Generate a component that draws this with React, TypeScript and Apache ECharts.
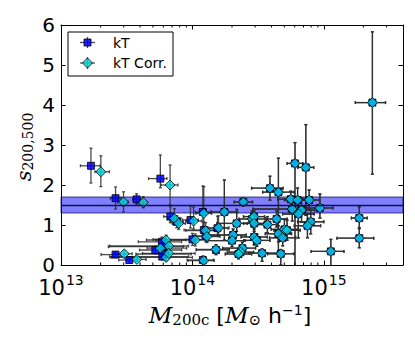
import React, { useEffect, useRef } from "react";
import * as echarts from "echarts";

// ---- axis ticks ----
const xMajorTicks = [1e13, 1e14, 1e15];
const xMinorTicks = [2e13, 3e13, 4e13, 5e13, 6e13, 7e13, 8e13, 9e13, 2e14, 3e14, 4e14, 5e14, 6e14, 7e14, 8e14, 9e14, 2e15, 3e15];
const xMin = 1e13;
const xMax = 4e15;
const yMin = 0;
const yMax = 6;
const yInterval = 1;

// ---- band ----
const bandLow = 1.3;
const bandMid = 1.5;
const bandHigh = 1.7;

// ---- low-mass clusters (kT and corrected differ) ----
const lowKTMass = [1.69e13, 2.6e13, 3.76e13, 2.6e13, 3.31e13, 5.7e13, 6.79e13, 7.59e13, 9.66e13, 1.2e14, 1.22e14, 1.26e14, 1.55e14, 1.0e14, 1.51e14, 1.2e14, 5.86e13, 6.03e13, 5.22e13, 5.89e13, 6.17e13];
const lowKTS = [2.48, 1.67, 1.64, 0.26, 0.125, 2.16, 1.21, 1.08, 1.125, 1.325, 0.875, 0.73, 0.92, 0.64, 0.375, 0.125, 0.58, 0.46, 0.375, 0.21, 0.275];
const lowKTXLo = [0.08, 0.04, 0.03, 0.11, 0.08, 0.09, 0.05, 0.05, 0.06, 0.06, 0.15, 0.1, 0.08, 0.3, 0.15, 0.12, 0.18, 0.42, 0.12, 0.4, 0.22];
const lowKTXHi = [0.07, 0.04, 0.03, 0.04, 0.06, 0.05, 0.05, 0.05, 0.06, 0.06, 0.08, 0.1, 0.08, 0.1, 0.1, 0.08, 0.15, 0.15, 0.2, 0.2, 0.2];
const lowKTSLo = [0.43, 0.27, 0.12, 0.07, 0.05, 0.23, 0.15, 0.15, 0.2, 0.4, 0.2, 0.15, 0.2, 0.15, 0.12, 0.1, 0.12, 0.1, 0.1, 0.08, 0.1];
const lowKTSHi = [0.44, 0.28, 0.14, 0.07, 0.05, 0.59, 0.25, 0.15, 0.35, 0.65, 0.2, 0.15, 0.3, 0.15, 0.12, 0.1, 0.12, 0.1, 0.1, 0.08, 0.1];

const lowCorrMass = [2.01e13, 2.99e13, 4.23e13, 3.03e13, 3.78e13, 6.76e13, 7.29e13, 7.87e13, 1.02e14, 1.22e14, 1.26e14, 1.29e14, 1.58e14, 1.05e14, 1.51e14, 1.22e14, 6.31e13, 6.61e13, 5.7e13, 6.31e13, 6.61e13];
const lowCorrS = [2.33, 1.575, 1.56, 0.28, 0.14, 2.0, 1.16, 1.04, 1.1, 1.29, 0.86, 0.71, 0.93, 0.625, 0.39, 0.11, 0.625, 0.475, 0.42, 0.19, 0.29];
const lowCorrXLo = [0.045, 0.045, 0.03, 0.08, 0.08, 0.07, 0.05, 0.05, 0.06, 0.06, 0.15, 0.1, 0.08, 0.3, 0.15, 0.12, 0.15, 0.45, 0.1, 0.42, 0.2];
const lowCorrXHi = [0.065, 0.036, 0.03, 0.06, 0.07, 0.06, 0.05, 0.05, 0.06, 0.06, 0.08, 0.1, 0.08, 0.1, 0.1, 0.08, 0.15, 0.15, 0.2, 0.2, 0.2];
const lowCorrSLo = [0.37, 0.245, 0.13, 0.07, 0.05, 0.5, 0.15, 0.15, 0.2, 0.4, 0.2, 0.15, 0.2, 0.15, 0.12, 0.1, 0.12, 0.1, 0.1, 0.08, 0.1];
const lowCorrSHi = [0.4, 0.255, 0.15, 0.07, 0.05, 0.5, 0.25, 0.15, 0.35, 0.67, 0.2, 0.15, 0.3, 0.15, 0.12, 0.1, 0.12, 0.1, 0.1, 0.08, 0.1];

// ---- high-mass clusters (kT and corrected coincide) ----
const hiMass = [1.75e14, 2.44e14, 3.89e14, 4.51e14, 5.6e14, 6.31e14, 7.73e14, 9.33e14, 5.75e14, 6.76e14, 6.4e14, 6.03e14, 7.29e14, 1.86e15, 1.86e15, 1.13e15, 7.94e14, 7.5e14, 2.17e14, 2.85e14, 2.94e14, 2.95e14, 3.72e14, 4.37e14, 2.04e14, 2.0e14, 2.95e14, 3.09e14, 4.51e14, 4.86e14, 5.01e14, 5.25e14, 2.4e14, 2.32e14, 2.24e14, 3.39e14, 4.7e14, 2.34e15];
const hiS = [1.325, 1.575, 1.92, 1.82, 1.645, 1.625, 1.625, 1.425, 1.4, 1.375, 1.275, 2.54, 2.44, 1.175, 0.67, 0.34, 1.08, 0.98, 1.04, 1.15, 1.21, 1.04, 1.01, 1.15, 0.75, 0.61, 0.7, 0.615, 0.78, 0.68, 0.89, 0.87, 0.42, 0.32, 0.275, 0.295, 0.28, 4.06];
const hiXLo = [0.1, 0.07, 0.14, 0.12, 0.1, 0.1, 0.08, 0.1, 0.3, 0.1, 0.12, 0.06, 0.06, 0.06, 0.17, 0.15, 0.1, 0.1, 0.15, 0.1, 0.08, 0.08, 0.08, 0.08, 0.2, 0.2, 0.1, 0.1, 0.1, 0.1, 0.1, 0.1, 0.15, 0.1, 0.1, 0.1, 0.1, 0.13];
const hiXHi = [0.1, 0.07, 0.1, 0.12, 0.1, 0.1, 0.08, 0.1, 0.1, 0.1, 0.12, 0.06, 0.06, 0.06, 0.11, 0.1, 0.1, 0.1, 0.08, 0.1, 0.08, 0.08, 0.08, 0.08, 0.1, 0.1, 0.1, 0.1, 0.1, 0.1, 0.1, 0.1, 0.1, 0.1, 0.1, 0.15, 0.1, 0.1];
const hiSLo = [0.7, 0.1, 0.3, 1.6, 0.2, 0.3, 0.25, 0.25, 0.3, 0.3, 0.6, 2.6, 1.2, 0.25, 0.24, 0.35, 0.3, 0.3, 0.2, 0.2, 0.15, 0.2, 0.2, 0.2, 0.15, 0.15, 0.2, 0.15, 0.2, 0.2, 0.25, 0.25, 0.15, 0.12, 0.12, 0.2, 0.28, 1.79];
const hiSHi = [0.8, 0.1, 0.3, 0.85, 0.2, 0.3, 0.25, 0.35, 0.3, 0.3, 0.3, 0.52, 1.07, 0.28, 0.24, 0.3, 0.3, 0.3, 0.35, 0.2, 0.15, 0.2, 0.2, 0.2, 0.15, 0.15, 0.2, 0.15, 0.2, 0.2, 0.25, 0.25, 0.15, 0.12, 0.12, 0.1, 0.1, 1.77];

const legendNames = ["kT", "kT Corr."];

const KT_COLOR = "rgba(0,0,255,0.85)";
const CORR_COLOR = "rgba(0,215,228,0.8)";
const ERR_COLOR = "rgba(45,45,45,0.85)";

function rows(m: number[], s: number[], xl: number[], xh: number[], sl: number[], sh: number[]) {
  return m.map((v, i) => [v, s[i], xl[i], xh[i], sl[i], sh[i]]);
}

const ktRows = rows(lowKTMass, lowKTS, lowKTXLo, lowKTXHi, lowKTSLo, lowKTSHi).concat(
  rows(hiMass, hiS, hiXLo, hiXHi, hiSLo, hiSHi)
);
const corrRows = rows(lowCorrMass, lowCorrS, lowCorrXLo, lowCorrXHi, lowCorrSLo, lowCorrSHi).concat(
  rows(hiMass, hiS, hiXLo, hiXHi, hiSLo, hiSHi)
);

function errRender(params: any, api: any) {
  const cs = params.coordSys;
  const m = api.value(0);
  const s = api.value(1);
  const xl = api.value(2);
  const xh = api.value(3);
  const sl = api.value(4);
  const sh = api.value(5);
  const c = api.coord([m, s]);
  const l = api.coord([m / Math.pow(10, xl), s]);
  const r = api.coord([m * Math.pow(10, xh), s]);
  const b = api.coord([m, s - sl]);
  const t = api.coord([m, s + sh]);
  const yB = Math.min(b[1], cs.y + cs.height);
  const style = { stroke: ERR_COLOR, lineWidth: 1.3 };
  const cap = 1.5;
  const children: any[] = [
    { type: "line", shape: { x1: l[0], y1: c[1], x2: r[0], y2: c[1] }, style },
    { type: "line", shape: { x1: c[0], y1: yB, x2: c[0], y2: t[1] }, style },
    { type: "line", shape: { x1: l[0], y1: c[1] - cap, x2: l[0], y2: c[1] + cap }, style },
    { type: "line", shape: { x1: r[0], y1: c[1] - cap, x2: r[0], y2: c[1] + cap }, style },
    { type: "line", shape: { x1: c[0] - cap, y1: t[1], x2: c[0] + cap, y2: t[1] }, style },
  ];
  if (b[1] <= cs.y + cs.height) {
    children.push({ type: "line", shape: { x1: c[0] - cap, y1: b[1], x2: c[0] + cap, y2: b[1] }, style });
  }
  return { type: "group", children };
}

function minorRender(params: any, api: any) {
  const cs = params.coordSys;
  const p = api.coord([api.value(0), 0]);
  const style = { stroke: "#000", lineWidth: 1 };
  const len = 2.5;
  return {
    type: "group",
    children: [
      { type: "line", shape: { x1: p[0], y1: cs.y + cs.height, x2: p[0], y2: cs.y + cs.height - len }, style },
      { type: "line", shape: { x1: p[0], y1: cs.y, x2: p[0], y2: cs.y + len }, style },
    ],
  };
}

const SANS = "'DejaVu Sans', sans-serif";
const SERIF = "'DejaVu Serif', serif";

export default function App() {
  const ref = useRef<HTMLDivElement>(null);
  useEffect(() => {
    document.body.style.margin = "0";
    const chart = echarts.init(ref.current!, null, { renderer: "svg" });
    const axisCommon = {
      axisLine: { show: true, onZero: false, lineStyle: { color: "#000", width: 1 } },
      axisTick: { show: true, inside: true, length: 4.5, lineStyle: { color: "#000", width: 1 } },
      splitLine: { show: false },
    };
    const xAxisBase = {
      type: "log",
      logBase: 10,
      min: xMin,
      max: xMax,
      ...axisCommon,
    };
    const yAxisBase = {
      type: "value",
      min: yMin,
      max: yMax,
      interval: yInterval,
      ...axisCommon,
    };
    const option: any = {
      animation: false,
      grid: { left: 61, right: 12, top: 25, bottom: 81 },
      xAxis: [
        {
          ...xAxisBase,
          position: "bottom",
          axisLabel: {
            show: true,
            margin: 2,
            formatter: (v: number) => {
              const e = Math.round(Math.log10(v));
              if (!xMajorTicks.some((t) => Math.abs(Math.log10(t) - e) < 1e-6)) return "";
              return `{b|10}{s|${e}}`;
            },
            rich: {
              b: { fontFamily: SANS, fontSize: 21, color: "#000", padding: [10, 0, 0, 0] },
              s: { fontFamily: SANS, fontSize: 14, color: "#000", padding: [0, 0, 6, 1] },
            },
          },
        },
        { ...xAxisBase, position: "top", axisLabel: { show: false } },
      ],
      yAxis: [
        {
          ...yAxisBase,
          position: "left",
          axisLabel: { show: true, margin: 6, fontFamily: SANS, fontSize: 20, color: "#000" },
        },
        { ...yAxisBase, position: "right", axisLabel: { show: false } },
      ],
      series: [
        {
          type: "scatter",
          data: [],
          markArea: {
            silent: true,
            itemStyle: { color: "rgba(0,0,255,0.5)", borderColor: "rgba(0,0,90,0.7)", borderWidth: 1 },
            data: [[{ yAxis: bandLow }, { yAxis: bandHigh }]],
          },
          markLine: {
            silent: true,
            symbol: "none",
            label: { show: false },
            lineStyle: { color: "#10104a", width: 1.3, type: "solid" },
            data: [{ yAxis: bandMid }],
          },
          z: 1,
        },
        {
          type: "custom",
          renderItem: minorRender,
          data: xMinorTicks.map((v) => [v, 0]),
          encode: { x: 0, y: 1 },
          silent: true,
          z: 3,
        },
        {
          type: "custom",
          name: legendNames[0] + " err",
          renderItem: errRender,
          data: ktRows,
          encode: { x: 0, y: 1 },
          silent: true,
          z: 2,
        },
        {
          type: "scatter",
          name: legendNames[0],
          data: ktRows.map((r) => [r[0], r[1]]),
          symbol: "rect",
          symbolSize: 7,
          itemStyle: { color: KT_COLOR, borderColor: "#000", borderWidth: 0.8, opacity: 1 },
          z: 2,
        },
        {
          type: "custom",
          name: legendNames[1] + " err",
          renderItem: errRender,
          data: corrRows,
          encode: { x: 0, y: 1 },
          silent: true,
          z: 2,
        },
        {
          type: "scatter",
          name: legendNames[1],
          data: corrRows.map((r) => [r[0], r[1]]),
          symbol: "diamond",
          symbolSize: [10, 10],
          itemStyle: { color: CORR_COLOR, borderColor: "#000", borderWidth: 0.8, opacity: 1 },
          z: 2,
        },
      ],
      graphic: [
        // y-axis title
        {
          type: "text",
          x: 24,
          y: 147,
          rotation: Math.PI / 2,
          style: {
            text: "{i|s}{sub|200,500}",
            align: "center",
            verticalAlign: "middle",
            rich: {
              i: { fontFamily: SERIF, fontStyle: "italic", fontSize: 21, color: "#000" },
              sub: { fontFamily: SERIF, fontSize: 14, color: "#000", padding: [8, 0, 0, 0] },
            },
          },
        },
        // x-axis title
        {
          type: "text",
          x: 230,
          y: 315,
          style: {
            text: "{i|M}{sub|200c}{n| [}{i|M}{sub|⊙}{n| h}{sup|−1}{n|]}",
            align: "center",
            verticalAlign: "middle",
            rich: {
              i: { fontFamily: SERIF, fontStyle: "italic", fontSize: 23, color: "#000" },
              n: { fontFamily: SANS, fontSize: 22, color: "#000" },
              sub: { fontFamily: SERIF, fontSize: 15, color: "#000", padding: [9, 0, 0, 0] },
              sup: { fontFamily: SANS, fontSize: 14, color: "#000", padding: [0, 0, 10, 0] },
            },
          },
        },
        // legend
        {
          type: "group",
          x: 68,
          y: 32,
          children: [
            { type: "rect", shape: { x: 0, y: 0, width: 105, height: 44 }, style: { fill: "#fff", stroke: "#000", lineWidth: 1 } },
            { type: "line", shape: { x1: 12, y1: 10.5, x2: 27, y2: 10.5 }, style: { stroke: ERR_COLOR, lineWidth: 1.3 } },
            { type: "line", shape: { x1: 19.5, y1: 5, x2: 19.5, y2: 16 }, style: { stroke: ERR_COLOR, lineWidth: 1.3 } },
            { type: "rect", shape: { x: 16, y: 7, width: 7, height: 7 }, style: { fill: KT_COLOR, stroke: "#000", lineWidth: 0.8 } },
            { type: "text", x: 45, y: 10.5, style: { text: legendNames[0], fontFamily: SANS, fontSize: 14, fill: "#000", verticalAlign: "middle" } },
            { type: "line", shape: { x1: 12, y1: 31, x2: 27, y2: 31 }, style: { stroke: ERR_COLOR, lineWidth: 1.3 } },
            { type: "line", shape: { x1: 19.5, y1: 25, x2: 19.5, y2: 37 }, style: { stroke: ERR_COLOR, lineWidth: 1.3 } },
            { type: "polygon", shape: { points: [[19.5, 26], [24.5, 31], [19.5, 36], [14.5, 31]] }, style: { fill: CORR_COLOR, stroke: "#000", lineWidth: 0.8 } },
            { type: "text", x: 45, y: 31, style: { text: legendNames[1], fontFamily: SANS, fontSize: 14, fill: "#000", verticalAlign: "middle" } },
          ],
        },
      ],
    };
    chart.setOption(option);
    return () => chart.dispose();
  }, []);
  return <div ref={ref} style={{ width: 415, height: 346 }} />;
}
